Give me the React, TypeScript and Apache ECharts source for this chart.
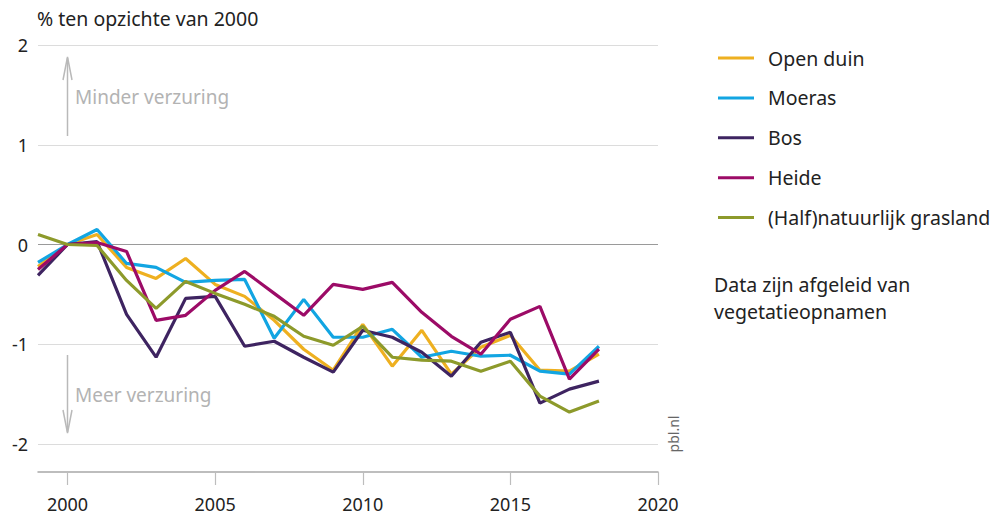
import React, { useEffect, useRef } from "react";
import * as echarts from "echarts";

const years = [1999, 2000, 2001, 2002, 2003, 2004, 2005, 2006, 2007, 2008, 2009, 2010, 2011, 2012, 2013, 2014, 2015, 2016, 2017, 2018];

const openDuin = [-0.22, 0, 0.1, -0.23, -0.34, -0.14, -0.4, -0.52, -0.76, -1.05, -1.26, -0.8, -1.22, -0.86, -1.3, -1.03, -0.91, -1.26, -1.27, -1.1];
const moeras = [-0.18, 0, 0.15, -0.19, -0.23, -0.38, -0.36, -0.35, -0.94, -0.55, -0.93, -0.93, -0.85, -1.13, -1.07, -1.12, -1.11, -1.27, -1.3, -1.02];
const bos = [-0.31, 0, 0.03, -0.7, -1.13, -0.54, -0.52, -1.02, -0.97, -1.13, -1.28, -0.86, -0.93, -1.08, -1.32, -0.98, -0.88, -1.59, -1.45, -1.37];
const heide = [-0.25, 0, 0.02, -0.07, -0.76, -0.71, -0.46, -0.27, -0.49, -0.71, -0.4, -0.45, -0.38, -0.68, -0.92, -1.1, -0.75, -0.62, -1.35, -1.05];
const grasland = [0.1, 0, -0.01, -0.36, -0.64, -0.37, -0.49, -0.6, -0.72, -0.92, -1.01, -0.82, -1.13, -1.16, -1.17, -1.27, -1.17, -1.52, -1.68, -1.57];

const seriesNames = ["Open duin", "Moeras", "Bos", "Heide", "(Half)natuurlijk grasland"];
const seriesValues = [openDuin, moeras, bos, heide, grasland];
const seriesColors = ["#eeb020", "#12a5e2", "#3e2461", "#9c0b67", "#8d9a2b"];

const xTicks = [2000, 2005, 2010, 2015, 2020];
const yTicks = [-2, -1, 0, 1, 2];

const FONT = "Noto Sans";

export default function App() {
  const ref = useRef<HTMLDivElement>(null);

  useEffect(() => {
    if (!ref.current) return;
    const chart = echarts.init(ref.current, null, { renderer: "svg" });
    const gridCol = yTicks.map((t) => (t === 0 ? "#9a9a9a" : "#dcdcdc"));
    const arrowCol = "#b9b9b9";
    chart.setOption({
      animation: false,
      textStyle: { fontFamily: FONT },
      grid: { left: 38, right: 334, top: 45, bottom: 74, containLabel: false },
      xAxis: {
        type: "value",
        min: 1999,
        max: 2020,
        offset: 28,
        axisLine: { show: true, onZero: false, lineStyle: { color: "#a8a8a8", width: 1.5 } },
        axisTick: { show: true, length: 13, customValues: xTicks, lineStyle: { color: "#bdbdbd", width: 1.2 } },
        axisLabel: {
          customValues: xTicks,
          margin: 23,
          fontSize: 18,
          color: "#222",
          fontFamily: FONT,
          formatter: (v: number) => String(v),
        },
        splitLine: { show: false },
      },
      yAxis: {
        type: "value",
        min: -2,
        max: 2,
        interval: 1,
        axisLine: { show: false },
        axisTick: { show: false },
        axisLabel: { margin: 10, fontSize: 18, color: "#222", fontFamily: FONT },
        splitLine: { show: true, lineStyle: { color: gridCol, width: 1.2 } },
      },
      legend: {
        orient: "vertical",
        left: 713,
        top: 40,
        icon: "rect",
        itemWidth: 36,
        itemHeight: 3,
        itemGap: 13.9,
        textStyle: { fontSize: 19.5, color: "#222", lineHeight: 26, padding: [0, 0, 0, 9], fontFamily: FONT },
        data: seriesNames,
        selectedMode: false,
      },
      series: seriesNames.map((name, i) => ({
        name,
        type: "line",
        data: years.map((y, j) => [y, seriesValues[i][j]]),
        showSymbol: false,
        symbol: "none",
        lineStyle: { color: seriesColors[i], width: 3.2 },
        itemStyle: { color: seriesColors[i] },
        emphasis: { disabled: true },
      })),
      graphic: [
        { type: "text", x: 37, y: 18, style: { text: "% ten opzichte van 2000", fontSize: 19.5, fill: "#222", fontFamily: FONT, textVerticalAlign: "middle" } },
        { type: "line", shape: { x1: 67.5, y1: 58, x2: 67.5, y2: 136 }, style: { stroke: arrowCol, lineWidth: 1.5 } },
        { type: "polyline", shape: { points: [[63, 80], [67.5, 57], [72, 80]] }, style: { stroke: arrowCol, lineWidth: 1.5, fill: null } },
        { type: "text", x: 75, y: 97, style: { text: "Minder verzuring", fontSize: 19, fill: "#b3b3b3", fontFamily: FONT, textVerticalAlign: "middle" } },
        { type: "line", shape: { x1: 67.5, y1: 355, x2: 67.5, y2: 432 }, style: { stroke: arrowCol, lineWidth: 1.5 } },
        { type: "polyline", shape: { points: [[63, 410], [67.5, 433], [72, 410]] }, style: { stroke: arrowCol, lineWidth: 1.5, fill: null } },
        { type: "text", x: 75, y: 395, style: { text: "Meer verzuring", fontSize: 19, fill: "#b3b3b3", fontFamily: FONT, textVerticalAlign: "middle" } },
        { type: "text", x: 673, y: 434, rotation: Math.PI / 2, style: { text: "pbl.nl", fontSize: 14, fill: "#666", fontFamily: FONT, textAlign: "center", textVerticalAlign: "middle" } },
        { type: "text", x: 714, y: 284, style: { text: "Data zijn afgeleid van", fontSize: 19.5, fill: "#222", fontFamily: FONT, textVerticalAlign: "middle" } },
        { type: "text", x: 714, y: 311, style: { text: "vegetatieopnamen", fontSize: 19.5, fill: "#222", fontFamily: FONT, textVerticalAlign: "middle" } },
      ],
    });
    return () => chart.dispose();
  }, []);

  return <div ref={ref} style={{ width: 992, height: 518, position: "absolute", left: 0, top: 0 }} />;
}
